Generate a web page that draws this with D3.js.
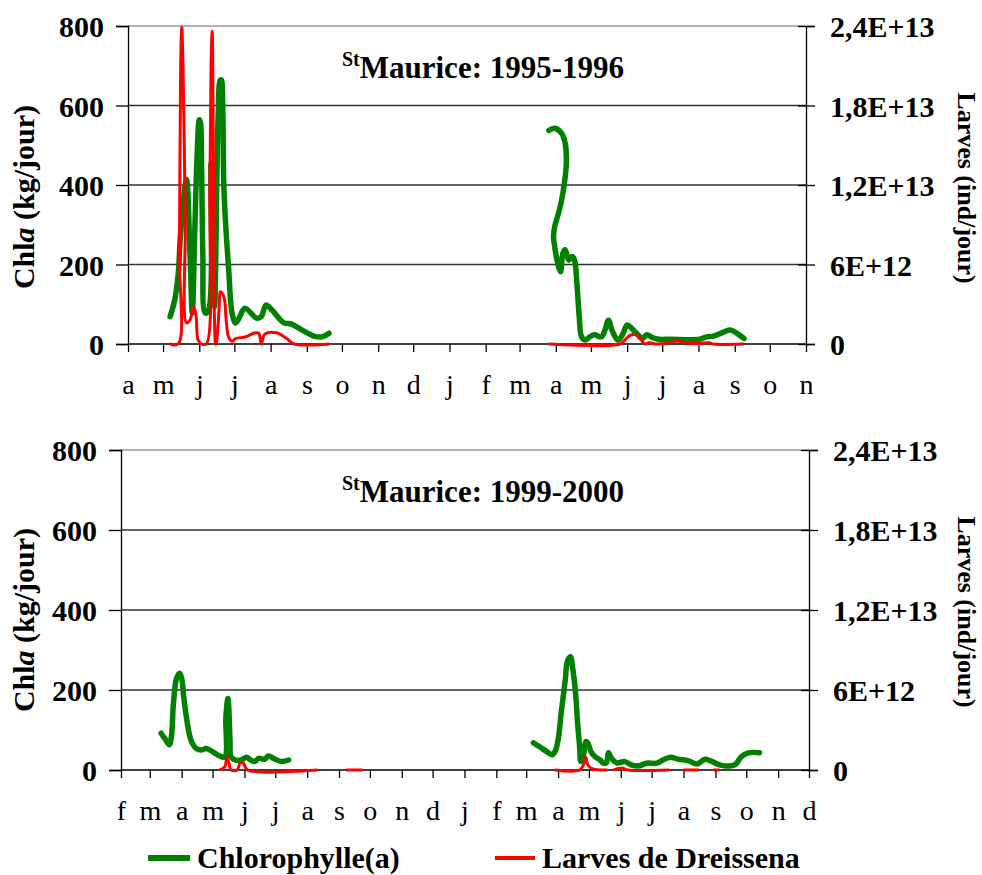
<!DOCTYPE html>
<html><head><meta charset="utf-8">
<script src="https://cdn.jsdelivr.net/npm/d3@7"></script>
<style>
body{margin:0;background:#fff}
svg{display:block}
text{font-family:"Liberation Serif","Times New Roman",serif;fill:#000}
</style>
</head><body>
<svg id="chart" width="982" height="875"></svg>
<script>
// ---------- tick labels ----------
const monthLetters = ["j","f","m","a","m","j","j","a","s","o","n","d"];
const chlTicks = [0, 200, 400, 600, 800];
const larTicks = [0, 6e12, 1.2e13, 1.8e13, 2.4e13];
const larTickLabels = ["0", "6E+12", "1,2E+13", "1,8E+13", "2,4E+13"];

// ---------- panel 1 : St Maurice 1995-1996 ----------
const chl1Dates = ["1995-05-07","1995-05-11","1995-05-14","1995-05-16","1995-05-21","1995-05-24","1995-05-26","1995-05-28","1995-05-30","1995-06-01","1995-06-02","1995-06-03","1995-06-04","1995-06-06","1995-06-09","1995-06-11","1995-06-14","1995-06-17","1995-06-19","1995-06-20","1995-06-21","1995-06-22","1995-06-24","1995-06-26","1995-06-29","1995-07-02","1995-07-05","1995-07-10","1995-07-20","1995-07-24","1995-07-28","1995-08-02","1995-08-12","1995-08-19","1995-08-28","1995-09-07","1995-09-14","1995-09-20",
  null,
  "1996-03-26","1996-03-31","1996-04-06","1996-04-09","1996-04-10","1996-04-07","1996-04-04","1996-03-31","1996-03-30","1996-03-31","1996-04-02","1996-04-05","1996-04-07","1996-04-09","1996-04-12","1996-04-15","1996-04-17","1996-04-19","1996-04-21","1996-04-23","1996-04-26","1996-04-30","1996-05-04","1996-05-10","1996-05-13","1996-05-16","1996-05-19","1996-05-24","1996-05-28","1996-06-01","1996-06-05","1996-06-09","1996-06-14","1996-06-18","1996-06-22","1996-06-28","1996-07-08","1996-08-02","1996-08-08","1996-08-14","1996-08-21","1996-08-28","1996-09-03","1996-09-09"];
const chl1Values = [69,111,178,278,414,229,78,270,463,564,556,438,229,78,86,455,94,564,664,664,606,396,279,194,78,53,65,90,65,69,98,86,54,50,35,20,18,27,
  null,
  537,543,530,505,455,379,337,295,270,245,211,182,228,237,211,220,211,153,69,18,10,18,23,18,35,60,35,10,23,48,39,27,14,23,17,12,12,12,18,20,28,35,27,14];
const lar1Dates = ["1995-05-07","1995-05-14","1995-05-15","1995-05-16","1995-05-17","1995-05-18","1995-05-20","1995-05-21","1995-05-24","1995-05-27","1995-05-29","1995-05-31","1995-06-03","1995-06-07","1995-06-10","1995-06-11","1995-06-12","1995-06-13","1995-06-14","1995-06-15","1995-06-16","1995-06-18","1995-06-19","1995-06-22","1995-06-24","1995-06-26","1995-06-29","1995-07-02","1995-07-11","1995-07-19","1995-07-22","1995-07-24","1995-07-27","1995-08-06","1995-08-15","1995-08-21","1995-09-20",
  null,
  "1996-03-26","1996-05-26","1996-05-30","1996-06-04","1996-06-09","1996-06-13","1996-06-16","1996-06-20","1996-06-25","1996-07-05","1996-07-14","1996-07-22","1996-08-02","1996-08-10","1996-08-14","1996-09-09"];
const lar1Values = [0,0,6.9e12,2.07e13,2.39e13,2.12e13,9.4e12,1.6e12,1.8e12,2.8e12,2.3e12,3e11,0,0,1.19e13,2.07e13,2.36e13,1.44e13,1.8e12,0,3e11,2.8e12,3.95e12,3.57e12,1.8e12,5.5e11,2e11,4e11,5.5e11,8.5e11,8e11,0,7.5e11,8.5e11,4e11,0,0,
  null,
  0,0,3e11,6.8e11,6.8e11,3e11,0,1e11,0,5e10,2.3e11,5e10,5e10,1e11,0,0];

// ---------- panel 2 : St Maurice 1999-2000 ----------
const chl2Dates = ["1999-03-12","1999-03-16","1999-03-20","1999-03-22","1999-03-24","1999-03-27","1999-03-30","1999-04-01","1999-04-03","1999-04-06","1999-04-10","1999-04-15","1999-04-20","1999-04-25","1999-05-01","1999-05-08","1999-05-13","1999-05-14","1999-05-16","1999-05-18","1999-05-19","1999-05-23","1999-05-29","1999-06-03","1999-06-07","1999-06-11","1999-06-15","1999-06-21","1999-06-24","1999-07-01","1999-07-07","1999-07-14",
  null,
  "2000-03-08","2000-03-14","2000-03-21","2000-03-26","2000-03-29","2000-04-01","2000-04-04","2000-04-08","2000-04-10","2000-04-13","2000-04-15","2000-04-18","2000-04-20","2000-04-22","2000-04-23","2000-04-26","2000-04-28","2000-04-30","2000-05-03","2000-05-07","2000-05-12","2000-05-15","2000-05-18","2000-05-20","2000-05-23","2000-05-28","2000-06-05","2000-06-11","2000-06-18","2000-06-26","2000-07-06","2000-07-12","2000-07-19","2000-07-27","2000-08-06","2000-08-14","2000-08-22","2000-08-29","2000-09-05","2000-09-15","2000-09-21","2000-09-26","2000-10-03","2000-10-14"];
const chl2Values = [92,77,63,83,167,229,242,229,183,125,75,54,50,54,46,35,33,133,179,75,33,25,25,32,25,21,29,27,35,27,21,25,
  null,
  68,58,46,38,46,75,142,225,271,283,258,192,117,58,21,42,71,67,46,33,25,17,18,43,29,18,21,13,10,17,17,25,32,27,23,15,27,21,13,10,15,33,43,43];
const lar2Dates = ["1999-05-08","1999-05-13","1999-05-15","1999-05-17","1999-05-19","1999-05-25","1999-05-28","1999-05-31","1999-06-04","1999-08-11",
  null,
  "1999-09-08","1999-09-24",
  null,
  "2000-03-29","2000-04-22","2000-04-26","2000-04-28","2000-04-30","2000-05-04","2000-05-19",
  null,
  "2000-05-25","2000-06-02","2000-06-08","2000-07-18",
  null,
  "2000-08-01","2000-08-16",
  null,
  "2000-08-30","2000-09-05"];
const lar2Values = [0,2.5e11,9.5e11,5e11,0,0,5.5e11,5e11,0,0,
  null,
  0,0,
  null,
  0,0,4.5e11,9.5e11,3.8e11,1e11,0,
  null,
  0,1.5e11,0,0,
  null,
  0,0,
  null,
  0,0];

const panels = [
  {title: "Maurice: 1995-1996", start: "1995-04-01", end: "1996-11-01",
   chlDates: chl1Dates, chlValues: chl1Values, larDates: lar1Dates, larValues: lar1Values,
   left: 128, right: 806, top: 26, bottom: 344, titleX: 483, titleY: 78, lOff: 12, rOff: 3},
  {title: "Maurice: 1999-2000", start: "1999-02-01", end: "2000-12-01",
   chlDates: chl2Dates, chlValues: chl2Values, larDates: lar2Dates, larValues: lar2Values,
   left: 121, right: 809, top: 450, bottom: 770, titleX: 483, titleY: 502, lOff: 10, rOff: 2}
];

const GREEN = "#008000", RED = "#ff0000";
const svg = d3.select("#chart");
const parse = d3.timeParse("%Y-%m-%d");

function zip(dates, values){
  return dates.map((d,i)=>({date: d ? parse(d) : null, v: values[i]}));
}

panels.forEach(p => {
  const x = d3.scaleTime().domain([parse(p.start), parse(p.end)]).range([p.left, p.right]);
  const yL = d3.scaleLinear().domain([0, 800]).range([p.bottom, p.top]);
  const yR = d3.scaleLinear().domain([0, 2.4e13]).range([p.bottom, p.top]);
  const g = svg.append("g");

  // gridlines
  g.append("g").selectAll("line").data(chlTicks.slice(1)).join("line")
    .attr("x1", p.left).attr("x2", p.right)
    .attr("y1", d=>yL(d)).attr("y2", d=>yL(d))
    .attr("stroke", d=> d===800 ? "#999" : "#333").attr("stroke-width", 1.3);

  // left axis
  const la = g.append("g").attr("transform", `translate(${p.left},0)`)
    .call(d3.axisLeft(yL).tickValues(chlTicks).tickSize(12).tickFormat(d3.format("d")));
  la.select(".domain").attr("stroke","#000").attr("stroke-width",1.3);
  la.selectAll(".tick line").attr("stroke","#000").attr("stroke-width",1.3);
  la.selectAll(".tick text").attr("x", -24).attr("font-size", 30).attr("font-weight","bold")
    .attr("font-family",'"Liberation Serif",serif').attr("fill","#000").attr("dy","0.35em");

  // right axis
  const ra = g.append("g").attr("transform", `translate(${p.right},0)`)
    .call(d3.axisRight(yR).tickValues(larTicks).tickSize(9)
      .tickFormat((d,i)=>larTickLabels[i]));
  ra.select(".domain").attr("stroke","#000").attr("stroke-width",1.3);
  ra.selectAll(".tick line").attr("x1",-8).attr("stroke","#000").attr("stroke-width",1.3);
  ra.selectAll(".tick text").attr("x", 24).attr("font-size", 30).attr("font-weight","bold")
    .attr("font-family",'"Liberation Serif",serif').attr("fill","#000").attr("dy","0.35em");

  // bottom axis
  const months = d3.timeMonth.range(parse(p.start), d3.timeDay.offset(parse(p.end),1));
  const ba = g.append("g").attr("transform", `translate(0,${p.bottom})`)
    .call(d3.axisBottom(x).tickValues(months).tickSize(8)
      .tickFormat(d=>monthLetters[d.getMonth()]));
  ba.select(".domain").attr("stroke","#000").attr("stroke-width",1.3).attr("d",`M${p.left},0H${p.right}`);
  ba.selectAll(".tick line").attr("stroke","#000").attr("stroke-width",1.3);
  ba.selectAll(".tick text").attr("y", 40).attr("font-size", 28)
    .attr("font-family",'"Liberation Serif",serif').attr("fill","#000").attr("dy","0.35em");

  // axis titles
  const lt = g.append("text").attr("transform", `translate(34,${(p.top+p.bottom)/2 + p.lOff}) rotate(-90)`)
    .attr("text-anchor","middle").attr("font-size", 30).attr("font-weight","bold");
  lt.append("tspan").text("Chl");
  lt.append("tspan").attr("font-style","italic").text("a");
  lt.append("tspan").text(" (kg/jour)");
  g.append("text").attr("transform", `translate(958,${(p.top+p.bottom)/2 + p.rOff}) rotate(90)`)
    .attr("text-anchor","middle").attr("font-size", 26).attr("font-weight","bold")
    .text("Larves (ind/jour)");

  // title
  const t = g.append("text").attr("x", p.titleX).attr("y", p.titleY)
    .attr("text-anchor","middle").attr("font-weight","bold");
  t.append("tspan").attr("font-size", 20).attr("dy", -12).text("St");
  t.append("tspan").attr("font-size", 31).attr("dy", 12).text(p.title);

  // lines
  const chlLine = d3.line().defined(d=>d.v!=null && d.date)
    .x(d=>x(d.date)).y(d=>yL(d.v)).curve(d3.curveCatmullRom.alpha(0.5));
  const larLine = d3.line().defined(d=>d.v!=null && d.date)
    .x(d=>x(d.date)).y(d=>yR(d.v)).curve(d3.curveCatmullRom.alpha(0.5));
  g.append("path").datum(zip(p.chlDates, p.chlValues)).attr("d", chlLine)
    .attr("fill","none").attr("stroke",GREEN).attr("stroke-width",5.5)
    .attr("stroke-linejoin","round").attr("stroke-linecap","round");
  g.append("path").datum(zip(p.larDates, p.larValues)).attr("d", larLine)
    .attr("fill","none").attr("stroke",RED).attr("stroke-width",3)
    .attr("stroke-linejoin","round");
});

// legend
const legend = svg.append("g");
const legendItems = [
  {label:"Chlorophylle(a)", color: GREEN, w: 6, x1: 148, x2: 190, tx: 197},
  {label:"Larves de Dreissena", color: RED, w: 4, x1: 495, x2: 535, tx: 542}
];
legendItems.forEach(it=>{
  legend.append("line").attr("x1",it.x1).attr("x2",it.x2).attr("y1",858).attr("y2",858)
    .attr("stroke",it.color).attr("stroke-width",it.w);
  legend.append("text").attr("x",it.tx).attr("y",868).attr("font-size",30)
    .attr("font-weight","bold").text(it.label);
});
</script>
</body></html>
